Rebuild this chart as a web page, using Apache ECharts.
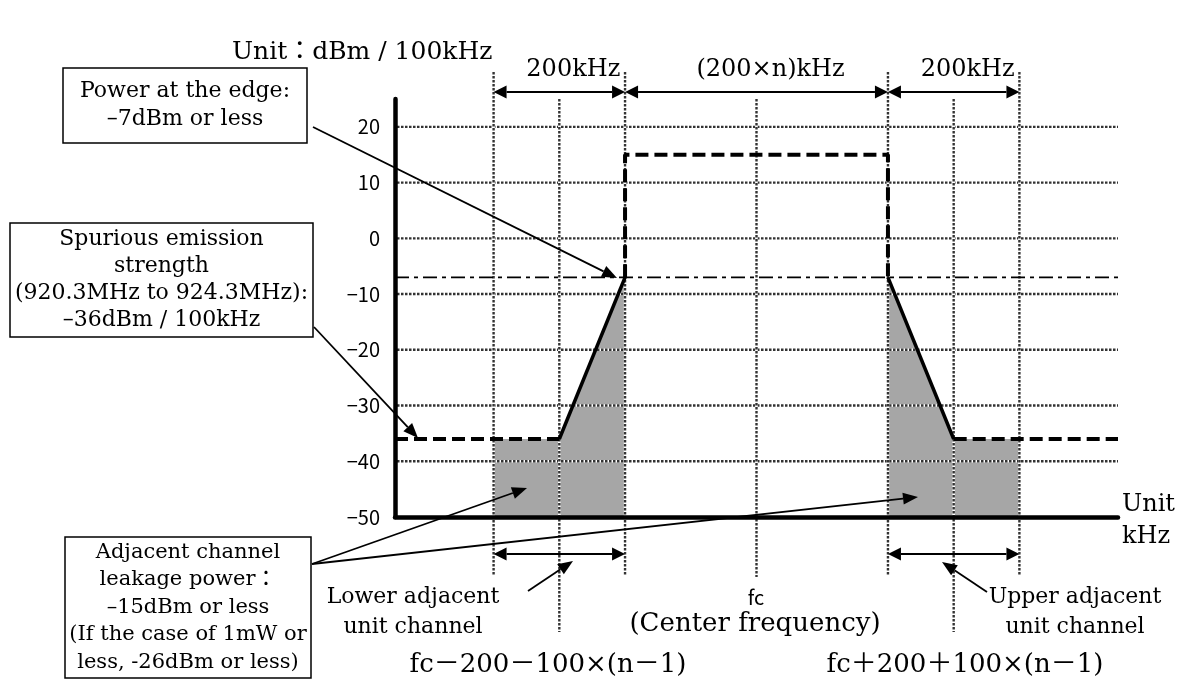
<!DOCTYPE html>
<html><head><meta charset="utf-8">
<script src="https://cdn.jsdelivr.net/npm/echarts@6/dist/echarts.min.js"></script>
<style>html,body{margin:0;padding:0;background:#fff}#chart{width:1190px;height:682px}</style>
</head><body><div id="chart"></div>
<script>
// ---- data: frequency in kHz offset from fc (n = 2), level in dBm / 100kHz ----
const gridLevels = [20, 10, 0, -10, -20, -30, -40];
const channelEdges = [-400, -200, 200, 400];
const unitCenters = [-300, 300];
const centerFreq = [0];
const edgePowerLine = [[-550, -7], [550, -7]];
const spuriousLeft = [[-550, -36], [-300, -36]];
const slopeLeft = [[-300, -36], [-200, -7]];
const inbandMask = [[-200, -7], [-200, 15], [200, 15], [200, -7]];
const slopeRight = [[200, -7], [300, -36]];
const spuriousRight = [[300, -36], [550, -36]];
const lowerAdjacentArea = [[-400, -36], [-300, -36], [-200, -7]];
const upperAdjacentArea = [[200, -7], [300, -36], [400, -36]];
const topSpans = [[-400, -200], [-200, 200], [200, 400]];
const topSpanLabels = ['200kHz', '(200×n)kHz', '200kHz'];
const bottomSpans = [[-400, -200], [200, 400]];

const SERIF = '"DejaVu Serif", "Noto Sans CJK JP", serif';
const SANS = '"Noto Sans CJK JP", "DejaVu Sans", sans-serif';

function dottedLine(x1, y1, x2, y2) {
  return [
    {type: 'line', shape: {x1, y1, x2, y2}, style: {stroke: '#fff', lineWidth: 2.6}},
    {type: 'line', shape: {x1, y1, x2, y2}, style: {stroke: '#333', lineWidth: 2.4, lineDash: [2.5, 1.5]}}
  ];
}
function hGridRender(params, api) {
  const cs = params.coordSys;
  const y = api.coord([0, api.value(1)])[1];
  return {type: 'group', children: dottedLine(cs.x + 2, y, cs.x + cs.width, y)};
}
function vLineRender(extTop, extBottom) {
  return function (params, api) {
    const cs = params.coordSys;
    const x = api.coord([api.value(0), 0])[0];
    return {type: 'group', children: dottedLine(x, cs.y - extTop, x, cs.y + cs.height + extBottom)};
  };
}
function head(x1, y1, x2, y2, len, half) {
  const dx = x2 - x1, dy = y2 - y1, L = Math.hypot(dx, dy);
  const ux = dx / L, uy = dy / L;
  const bx = x2 - ux * len, by = y2 - uy * len;
  return {base: [bx, by], pts: [[x2, y2], [bx - uy * half, by + ux * half], [bx + uy * half, by - ux * half]]};
}
function spanRender(offsetFn, withLabels) {
  return function (params, api) {
    const cs = params.coordSys;
    const y = offsetFn(cs);
    const xa = api.coord([api.value(0), 0])[0];
    const xb = api.coord([api.value(1), 0])[0];
    const h1 = head(xb, y, xa, y, 13, 6.5);
    const h2 = head(xa, y, xb, y, 13, 6.5);
    const ch = [
      {type: 'line', shape: {x1: h1.base[0], y1: y, x2: h2.base[0], y2: y}, style: {stroke: '#000', lineWidth: 2}},
      {type: 'polygon', shape: {points: h1.pts}, style: {fill: '#000'}},
      {type: 'polygon', shape: {points: h2.pts}, style: {fill: '#000'}}
    ];
    if (withLabels) {
      ch.push({type: 'text', style: {text: topSpanLabels[params.dataIndex], x: (xa + xb) / 2 + 14, y: y - 22,
        fontSize: 24, fontFamily: SERIF, fill: '#000', align: 'center', verticalAlign: 'middle'}});
    }
    return {type: 'group', children: ch};
  };
}
function lineSeries(data, style, z) {
  return {type: 'line', data, symbol: 'none', silent: true, z, lineStyle: Object.assign({color: '#000'}, style)};
}
function leader(x1, y1, x2, y2) {
  const h = head(x1, y1, x2, y2, 15, 6);
  return [
    {type: 'line', z: 100, shape: {x1, y1, x2: h.base[0], y2: h.base[1]}, style: {stroke: '#000', lineWidth: 1.8}},
    {type: 'polygon', z: 100, shape: {points: h.pts}, style: {fill: '#000'}}
  ];
}
function box(x, y, w, hgt, text, size, lh) {
  return [
    {type: 'rect', z: 100, shape: {x, y, width: w, height: hgt}, style: {fill: '#fff', stroke: '#000', lineWidth: 1.5}},
    {type: 'text', z: 101, style: {text, x: x + w / 2, y: y + hgt / 2, fontSize: size, fontFamily: SERIF, fill: '#000',
      align: 'center', verticalAlign: 'middle', lineHeight: lh}}
  ];
}
function label(text, x, y, size, align, lh, family) {
  return {type: 'text', z: 101, style: {text, x, y, fontSize: size, fontFamily: family || SERIF, fill: '#000',
    align: align || 'center', verticalAlign: 'middle', lineHeight: lh || size * 1.2}};
}

const chart = echarts.init(document.getElementById('chart'));
chart.setOption({
  animation: false,
  backgroundColor: '#fff',
  grid: {left: 395, right: 72, top: 99, bottom: 165},
  xAxis: {type: 'value', min: -550, max: 550, z: 10,
    axisLine: {show: true, onZero: false, lineStyle: {color: '#000', width: 4.5}},
    axisTick: {show: false}, axisLabel: {show: false}, splitLine: {show: false}},
  yAxis: {type: 'value', min: -50, max: 25, interval: 10, z: 10,
    axisLine: {show: true, onZero: false, lineStyle: {color: '#000', width: 4.5}},
    axisTick: {show: false}, splitLine: {show: false},
    axisLabel: {showMaxLabel: false, margin: 15, color: '#000', fontSize: 20, fontFamily: SANS,
      padding: [8, 0, 0, 0],
      formatter: v => (v > 20 ? '' : String(v).replace('-', '−'))}},
  series: [
    {type: 'line', data: lowerAdjacentArea, symbol: 'none', silent: true, z: 1,
      lineStyle: {width: 0, opacity: 0}, areaStyle: {color: '#a6a6a6', opacity: 1, origin: 'start'}},
    {type: 'line', data: upperAdjacentArea, symbol: 'none', silent: true, z: 1,
      lineStyle: {width: 0, opacity: 0}, areaStyle: {color: '#a6a6a6', opacity: 1, origin: 'start'}},
    {type: 'custom', clip: false, silent: true, z: 2, renderItem: hGridRender, data: gridLevels.map(v => [0, v])},
    {type: 'custom', clip: false, silent: true, z: 2, renderItem: vLineRender(27, 59), data: channelEdges.map(f => [f, 0])},
    {type: 'custom', clip: false, silent: true, z: 2, renderItem: vLineRender(0, 115), data: unitCenters.map(f => [f, 0])},
    {type: 'custom', clip: false, silent: true, z: 2, renderItem: vLineRender(0, 60), data: centerFreq.map(f => [f, 0])},
    lineSeries(edgePowerLine, {width: 1.6, type: [14, 5, 4, 5]}, 3),
    lineSeries(spuriousLeft, {width: 4, type: [13, 6]}, 5),
    lineSeries(slopeLeft, {width: 3.5, type: 'solid'}, 5),
    lineSeries(inbandMask, {width: 4, type: [13, 6]}, 5),
    lineSeries(slopeRight, {width: 3.5, type: 'solid'}, 5),
    lineSeries(spuriousRight, {width: 4, type: [13, 6]}, 5),
    {type: 'custom', clip: false, silent: true, z: 6, renderItem: spanRender(cs => cs.y - 7, true), data: topSpans},
    {type: 'custom', clip: false, silent: true, z: 6, renderItem: spanRender(cs => cs.y + cs.height + 37, false), data: bottomSpans}
  ],
  graphic: [].concat(
    [label('Unit：dBm / 100kHz', 232, 52, 25, 'left')],
    box(63, 68, 244, 75, 'Power at the edge:\n–7dBm or less', 22, 28),
    box(10, 223, 303, 114, 'Spurious emission\nstrength\n(920.3MHz to 924.3MHz):\n–36dBm / 100kHz', 22, 27),
    box(65, 537, 246, 141, 'Adjacent channel\nleakage power：\n–15dBm or less\n(If the case of 1mW or\nless, -26dBm or less)', 21, 27.5),
    leader(313, 127, 617, 278),
    leader(314, 327, 418, 438),
    leader(312, 564, 527, 488),
    leader(312, 564, 918, 497),
    leader(528, 591, 573, 561),
    leader(987, 592, 942, 562),
    [
      label('Unit\nkHz', 1122, 521, 24, 'left', 32),
      label('fc', 756, 597, 20, 'center', 22, SANS),
      label('(Center frequency)', 755, 624, 26),
      label('Lower adjacent\nunit channel', 413, 612, 22, 'center', 30),
      label('Upper adjacent\nunit channel', 1075, 612, 22, 'center', 30),
      label('fc－200－100×(n－1)', 548, 665, 26),
      label('fc＋200＋100×(n－1)', 965, 665, 26)
    ]
  )
});
</script></body></html>
